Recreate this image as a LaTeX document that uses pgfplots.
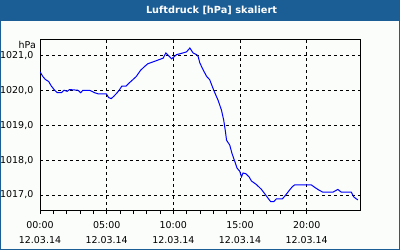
\documentclass[border=0pt]{standalone}
\usepackage{pgfplots}
\pgfplotsset{compat=1.18}
\usepackage{fontspec}
\setmainfont{DejaVu Sans}
\definecolor{frameblue}{RGB}{27,94,150}
\definecolor{bgc}{RGB}{250,253,250}
\begin{document}
\begin{tikzpicture}[x=1bp,y=1bp]
\useasboundingbox (0,0) rectangle (400,250);
\fill[bgc] (0,0) rectangle (400,250);
\fill[frameblue] (0,229) rectangle (400,250);
\draw[frameblue, line width=1.5bp] (0.75,0.75) rectangle (399.25,249.25);
\node[text=white, font=\fontsize{9.8}{12}\selectfont\bfseries] at (211.5,239.5) {Luftdruck [hPa] skaliert};
\node[anchor=east, font=\fontsize{9.5}{12}\selectfont, inner sep=0pt] at (36,205) {hPa};
\begin{axis}[
  at={(40bp,39.3bp)}, anchor=south west,
  scale only axis, width=320bp, height=170.7bp,
  xmin=0, xmax=24, ymin=1016.55, ymax=1021.44,
  axis line style={black, line width=1bp},
  xtick={0,5,10,15,20},
  xticklabels={{00:00\\12.03.14},{05:00\\12.03.14},{10:00\\12.03.14},{15:00\\12.03.14},{20:00\\12.03.14}},
  minor x tick num=4,
  ytick={1017,1018,1019,1020,1021},
  yticklabels={{1017,0},{1018,0},{1019,0},{1020,0},{1021,0}},
  xtick pos=bottom, tick align=outside,
  major tick length=3.5bp, minor tick length=3.5bp,
  every tick/.style={black, line width=0.8bp},
  ytick style={draw=none},
  xticklabel style={align=center, font=\fontsize{9.5}{15}\selectfont, inner sep=0pt, yshift=-7bp},
  yticklabel style={font=\fontsize{9.5}{12}\selectfont, inner sep=0pt, xshift=-3bp},
  grid=major,
  major grid style={black, dash pattern=on 3bp off 3bp, line width=0.9bp},
]
\addplot[blue, line width=1bp] coordinates {
(0,1020.53) (0.22,1020.39) (0.40,1020.31) (0.65,1020.25) (0.85,1020.12)
(1.10,1020.0) (1.30,1019.93) (1.60,1019.93) (1.80,1020.0) (2.04,1019.97)
(2.22,1020.02) (2.85,1020.0) (3.05,1019.93) (3.22,1020.0) (3.72,1020.0)
(4.10,1019.93) (4.34,1019.9) (4.97,1019.9) (5.15,1019.79) (5.34,1019.76)
(5.54,1019.83) (5.79,1019.93) (5.97,1020.02) (6.14,1020.12) (6.46,1020.12)
(6.72,1020.22) (7.21,1020.39) (7.54,1020.57) (7.84,1020.68) (8.09,1020.76)
(8.24,1020.78) (8.74,1020.85) (9.24,1020.92) (9.44,1021.07) (9.87,1020.9)
(10.24,1021.02) (10.73,1021.07) (10.99,1021.1) (11.24,1021.21) (11.48,1021.07)
(11.74,1021.02) (11.86,1020.97) (11.99,1020.78) (12.23,1020.59) (12.49,1020.4)
(12.73,1020.3) (13.03,1020.0) (13.36,1019.71) (13.61,1019.43) (13.78,1019.14)
(13.91,1018.81) (13.99,1018.57) (14.23,1018.43) (14.40,1018.19) (14.61,1017.96)
(14.78,1017.77) (14.98,1017.68) (15.11,1017.52) (15.23,1017.63) (15.43,1017.61)
(15.68,1017.52) (15.86,1017.4) (16.23,1017.30) (16.61,1017.16) (16.98,1016.97)
(17.30,1016.81) (17.53,1016.81) (17.73,1016.89) (18.18,1016.89) (18.43,1017.0)
(18.67,1017.12) (18.93,1017.24) (19.10,1017.29) (20.35,1017.29) (20.60,1017.22)
(20.92,1017.14) (21.22,1017.08) (21.97,1017.08) (22.34,1017.16) (22.60,1017.08)
(23.35,1017.08) (23.52,1016.95) (23.72,1016.89) (23.84,1016.86)
};
\end{axis}
\end{tikzpicture}
\end{document}
